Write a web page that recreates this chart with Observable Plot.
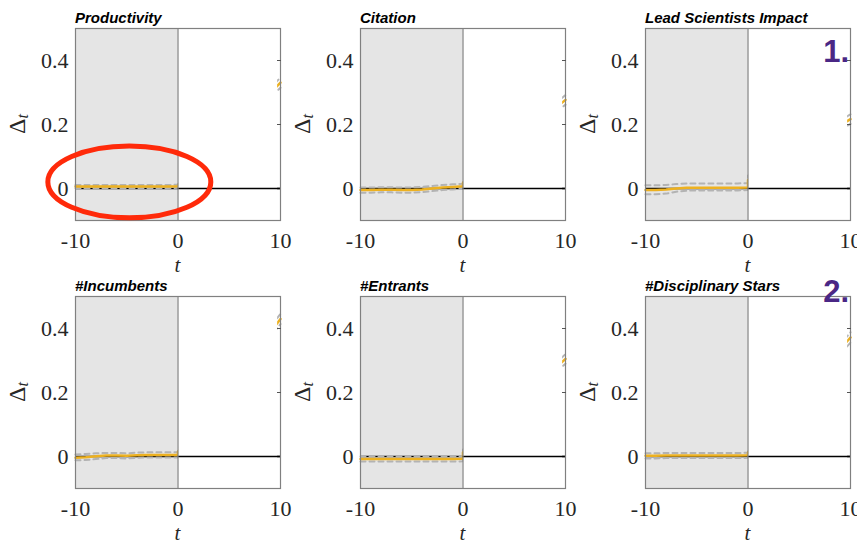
<!DOCTYPE html>
<html><head><meta charset="utf-8">
<script src="https://cdn.jsdelivr.net/npm/d3@7"></script>
<script src="https://cdn.jsdelivr.net/npm/@observablehq/plot@0.6"></script>
<style>
body{margin:0;background:#fff;}
#wrap{position:relative;width:857px;height:545px;overflow:hidden;background:#fff;}
.panel{position:absolute;}
#overlay{position:absolute;left:0;top:0;pointer-events:none;}
</style></head><body><div id="wrap"></div>
<script>
// ---------- data ----------
const titles = ["Productivity","Citation","Lead Scientists Impact","#Incumbents","#Entrants","#Disciplinary Stars"];
const tPre = [-10,-9,-8,-7,-6,-5,-4,-3,-2,-1,0];
const tEnd = 10;
const xTicks = [-10,0,10];
const yTicks = [0,0.2,0.4];
const rightTicks = [0.2,0.4];
const xDomain = [-10,10];
const yDomain = [-0.1,0.5];
const shadeFrom = -10, shadeTo = 0;
const hideFrom = 0.06, hideTo = 9.72;

const meanProductivity = [0.006,0.006,0.006,0.006,0.006,0.006,0.006,0.006,0.006,0.006,0.007];
const hiProductivity   = [0.011,0.011,0.011,0.011,0.011,0.011,0.011,0.011,0.011,0.011,0.012];
const loProductivity   = [0.001,0.001,0.001,0.001,0.001,0.001,0.001,0.001,0.001,0.001,0.002];

const meanCitation = [-0.005,-0.005,-0.004,-0.004,-0.005,-0.005,-0.003,0.000,0.003,0.005,0.007];
const hiCitation   = [0.003,0.003,0.004,0.004,0.003,0.003,0.005,0.008,0.011,0.013,0.015];
const loCitation   = [-0.013,-0.013,-0.012,-0.012,-0.013,-0.013,-0.011,-0.008,-0.005,-0.003,-0.001];

const meanLead = [-0.005,-0.005,-0.003,0.000,0.002,0.002,0.002,0.002,0.002,0.002,0.003];
const hiLead   = [0.010,0.010,0.011,0.014,0.016,0.016,0.016,0.016,0.016,0.016,0.017];
const loLead   = [-0.018,-0.018,-0.016,-0.010,-0.007,-0.006,-0.006,-0.006,-0.006,-0.006,-0.005];

const meanIncumbents = [-0.004,-0.002,0.001,0.003,0.003,0.002,0.004,0.005,0.005,0.005,0.005];
const hiIncumbents   = [0.006,0.008,0.010,0.011,0.011,0.010,0.012,0.013,0.013,0.013,0.013];
const loIncumbents   = [-0.012,-0.011,-0.008,-0.005,-0.005,-0.006,-0.004,-0.003,-0.003,-0.003,-0.003];

const meanEntrants = [-0.008,-0.008,-0.008,-0.008,-0.008,-0.008,-0.008,-0.008,-0.008,-0.008,-0.007];
const hiEntrants   = [0.000,0.000,0.000,0.000,0.000,0.000,0.000,0.000,0.000,0.000,0.001];
const loEntrants   = [-0.016,-0.016,-0.016,-0.016,-0.016,-0.016,-0.016,-0.016,-0.016,-0.016,-0.015];

const meanStars = [0.002,0.002,0.003,0.003,0.003,0.003,0.003,0.003,0.003,0.003,0.004];
const hiStars   = [0.010,0.010,0.011,0.011,0.011,0.011,0.011,0.011,0.011,0.011,0.012];
const loStars   = [-0.006,-0.006,-0.005,-0.005,-0.005,-0.005,-0.005,-0.005,-0.005,-0.005,-0.004];

// value right after t=0 (jump) and value at t=10
const jumpMean = [0.009,0.018,0.026,0.015,0.013,0.012];
const endMean  = [0.331,0.277,0.217,0.430,0.305,0.372];
const endHi    = [0.347,0.292,0.232,0.446,0.320,0.388];
const endLo    = [0.315,0.262,0.202,0.414,0.290,0.356];

const means = [meanProductivity,meanCitation,meanLead,meanIncumbents,meanEntrants,meanStars];
const his = [hiProductivity,hiCitation,hiLead,hiIncumbents,hiEntrants,hiStars];
const los = [loProductivity,loCitation,loLead,loIncumbents,loEntrants,loStars];

// annotation (panel 1, data units)
const ellipse = {t: -4.7, v: 0.019, rt: 7.95, rv: 0.112};

// ---------- drawing ----------
const orange = "#EDB120", ciGray = "#b3b3b3", frameGray = "#808080";
const wrap = document.getElementById("wrap");
const W = 285, H = 268;

titles.forEach((title, i) => {
  const col = i % 3, row = Math.floor(i / 3);
  const pre = tPre.map((t, j) => ({t, m: means[i][j], hi: his[i][j], lo: los[i][j]}));
  const series = [
    ...pre,
    {t: 0, m: jumpMean[i], hi: his[i][10] + (jumpMean[i] - means[i][10]), lo: los[i][10] + (jumpMean[i] - means[i][10])},
    {t: tEnd, m: endMean[i], hi: endHi[i], lo: endLo[i]}
  ];
  const marks = [
    Plot.rect([{a: shadeFrom, b: shadeTo}], {x1: "a", x2: "b", fill: "#e5e5e5"}),
    Plot.ruleY([0], {stroke: "#000", strokeWidth: 1.6}),
    Plot.line(series, {x: "t", y: "hi", stroke: ciGray, strokeWidth: 2, strokeDasharray: "5,4"}),
    Plot.line(series, {x: "t", y: "lo", stroke: ciGray, strokeWidth: 2, strokeDasharray: "5,4"}),
    Plot.line(series, {x: "t", y: "m", stroke: orange, strokeWidth: 2.5}),
    Plot.rect([{a: hideFrom, b: hideTo}], {x1: "a", x2: "b", fill: "#fff"}),
    Plot.ruleY([0], {x1: 0, x2: xDomain[1], stroke: "#000", strokeWidth: 1.6}),
    Plot.ruleX([0], {stroke: frameGray, strokeWidth: 1.2}),
    Plot.frame({stroke: frameGray, strokeWidth: 1.2}),
    Plot.axisX({ticks: xTicks, tickSize: 0, tickPadding: 12, tickFormat: d => String(d), label: null, fill: "#262626"}),
    Plot.axisY({ticks: yTicks, tickSize: 0, tickPadding: 7, tickFormat: d => String(d), label: null, fill: "#262626"}),
    Plot.axisY({anchor: "right", ticks: rightTicks, tickSize: -4, tickFormat: () => "", label: null, stroke: "#555"})
  ];
  if (i === 0) {
    marks.push(Plot.dot([ellipse], {
      x: "t", y: "v",
      render(index, scales, values, dims, context) {
        const g = d3.create("svg:g");
        const cx = scales.x(ellipse.t), cy = scales.y(ellipse.v);
        const rx = Math.abs(scales.x(ellipse.t + ellipse.rt) - cx);
        const ry = Math.abs(scales.y(ellipse.v + ellipse.rv) - cy);
        g.append("ellipse").attr("cx", cx).attr("cy", cy).attr("rx", rx).attr("ry", ry)
          .attr("fill", "none").attr("stroke", "#ff2a0a").attr("stroke-width", 5);
        return g.node();
      }
    }));
  }
  const svg = Plot.plot({
    width: W, height: H,
    marginLeft: 75, marginRight: 5, marginTop: 28, marginBottom: 48,
    x: {domain: xDomain},
    y: {domain: yDomain},
    style: {fontFamily: "'Liberation Serif', 'Times New Roman', serif", fontSize: "22px", overflow: "visible", background: "transparent"},
    marks
  });
  const s = d3.select(svg);
  // title
  s.append("text").attr("x", 75).attr("y", 22.5).attr("text-anchor", "start")
    .attr("font-family", "'Liberation Sans', Arial, sans-serif").attr("font-size", 15)
    .attr("font-weight", "bold").attr("font-style", "italic").attr("fill", "#000").text(title);
  // y label Δ_t
  const yl = s.append("text").attr("transform", "translate(25,124) rotate(-90)").attr("text-anchor", "middle")
    .attr("fill", "#262626").attr("font-family", "'Liberation Serif', serif");
  yl.append("tspan").attr("font-size", 24).text("Δ");
  yl.append("tspan").attr("font-size", 16).attr("font-style", "italic").attr("dy", 3).text("t");
  // x label t
  s.append("text").attr("x", 75 + (W - 80) / 2).attr("y", 272).attr("text-anchor", "middle")
    .attr("font-family", "'Liberation Serif', serif").attr("font-style", "italic").attr("font-size", 21)
    .attr("fill", "#262626").text("t");
  const div = document.createElement("div");
  div.className = "panel";
  div.style.left = (col * W) + "px";
  div.style.top = (row * H) + "px";
  div.appendChild(svg);
  wrap.appendChild(div);
});

// numbered labels
const labels = [{text: "1.", x: 849, y: 62}, {text: "2.", x: 849, y: 302}];
const ov = d3.select(wrap).append("svg").attr("id", "overlay").attr("width", 857).attr("height", 545);
labels.forEach(l => ov.append("text").attr("x", l.x).attr("y", l.y).attr("text-anchor", "end")
  .attr("font-family", "'Liberation Sans', Arial, sans-serif").attr("font-weight", "bold")
  .attr("font-size", 31).attr("fill", "#4a2785").text(l.text));
</script></body></html>
